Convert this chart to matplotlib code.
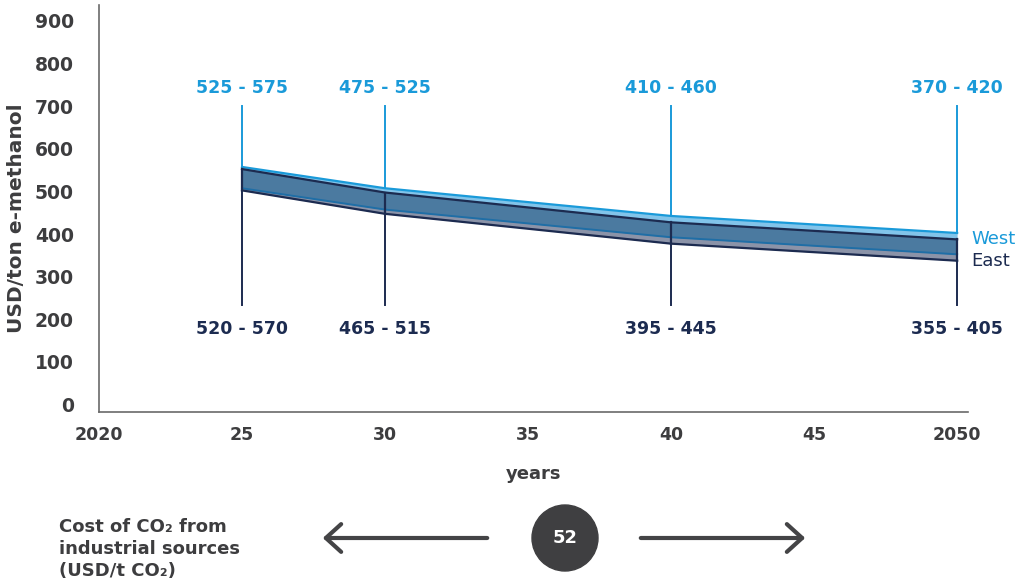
import matplotlib
matplotlib.use("Agg")
import matplotlib.pyplot as plt
import numpy as np
from matplotlib.patches import Ellipse, FancyArrowPatch

# Cost ranges (USD/ton e-methanol) by year
years = np.array([2025, 2030, 2040, 2050])
west_low = np.array([525, 475, 410, 370])
west_high = np.array([575, 525, 460, 420])
east_low = np.array([520, 465, 395, 355])
east_high = np.array([570, 515, 445, 405])

xticks = [2020, 2025, 2030, 2035, 2040, 2045, 2050]
xtick_labels = ["2020", "25", "30", "35", "40", "45", "2050"]
yticks = list(range(0, 1000, 100))
co2_cost = 52

BLUE = "#1a9ad9"
NAVY = "#1c2b50"
GREY = "#3d3d3f"

plt.rcParams["font.family"] = ["DejaVu Sans"]

fig = plt.figure(figsize=(10.25, 5.85), dpi=100)
ax = fig.add_axes([99 / 1025, 1 - 412 / 585, 869 / 1025, 407 / 585])

ax.set_xlim(2020, 2050.38)
ax.set_ylim(0, 955)

# bands: west only, east only, then the overlap on top
ax.fill_between(years, west_low, west_high, color="#82c4ea", lw=0, zorder=2)
ax.fill_between(years, east_low, east_high, color="#8b93a8", lw=0, zorder=2)
ov_low = np.maximum(west_low, east_low)
ov_high = np.minimum(west_high, east_high)
ax.fill_between(years, ov_low, ov_high, color="#4b7aa0", lw=0, zorder=3)

ax.plot(years, west_high, color=BLUE, lw=1.6, zorder=4)
ax.plot(years, west_low, color="#1f6ea6", lw=1.4, zorder=4)
ax.plot(years, east_high, color=NAVY, lw=1.6, zorder=4)
ax.plot(years, east_low, color=NAVY, lw=1.6, zorder=4)

# range markers with labels above (west) and below (east)
line_top, line_bottom = 717, 251
for x, wl, wh, el, eh in zip(years, west_low, west_high, east_low, east_high):
    ax.plot([x, x], [wh, line_top], color=BLUE, lw=1.4, zorder=1)
    ax.plot([x, x], [line_bottom, eh], color=NAVY, lw=1.4, zorder=1)
    ax.plot([x, x], [el, eh], color=NAVY, lw=1.6, zorder=5)
    ax.text(x, 761, f"{wl} - {wh}", color=BLUE, fontsize=12.5,
            fontweight="bold", ha="center", va="center")
    ax.text(x, 195, f"{el} - {eh}", color=NAVY, fontsize=12.5,
            fontweight="bold", ha="center", va="center")

ax.text(2050.5, (west_low[-1] + west_high[-1]) / 2 + 10, "West", color=BLUE,
        fontsize=13, ha="left", va="center")
ax.text(2050.5, (east_low[-1] + east_high[-1]) / 2 - 25, "East", color=NAVY,
        fontsize=13, ha="left", va="center")

for side in ["top", "right"]:
    ax.spines[side].set_visible(False)
for side in ["left", "bottom"]:
    ax.spines[side].set_color("#6a6a6a")
    ax.spines[side].set_linewidth(1.2)

ax.set_xticks(xticks)
ax.set_xticklabels(xtick_labels)
ax.set_yticks(yticks)
ax.tick_params(length=0, colors=GREY, labelsize=12.5)
ax.tick_params(axis="x", pad=10)
ax.tick_params(axis="y", pad=18, labelsize=13.5)
for lab in ax.get_xticklabels() + ax.get_yticklabels():
    lab.set_fontweight("bold")
for lab in ax.get_yticklabels():
    lab.set_verticalalignment("baseline")

ax.set_xlabel("years", color=GREY, fontsize=13, fontweight="bold", labelpad=15)
fig.text(17 / 1025, 1 - 218 / 585, "USD/ton e-methanol", rotation=90, color=GREY,
         fontsize=14.5, fontweight="bold", ha="center", va="center")

# CO2 cost note with arrows and value bubble
fig.text(59 / 1025, 1 - 549 / 585, "Cost of CO\u2082 from\nindustrial sources\n(USD/t CO\u2082)",
         color=GREY, fontsize=13, fontweight="bold", ha="left", va="center",
         linespacing=1.3)

arrow_y = 1 - 538 / 585
for start, end in [(490, 320), (638, 808)]:
    fig.add_artist(FancyArrowPatch((start / 1025, arrow_y), (end / 1025, arrow_y),
                                   transform=fig.transFigure,
                                   arrowstyle="->,head_length=0.55,head_width=0.5",
                                   mutation_scale=20, color="#444446", lw=3))

fig.add_artist(Ellipse((565 / 1025, arrow_y), 66 / 1025, 66 / 585,
                       transform=fig.transFigure, color="#3f3f41"))
fig.text(565 / 1025, arrow_y, str(co2_cost), color="white", fontsize=13,
         fontweight="bold", ha="center", va="center")

fig.savefig("out.png", dpi=100)
